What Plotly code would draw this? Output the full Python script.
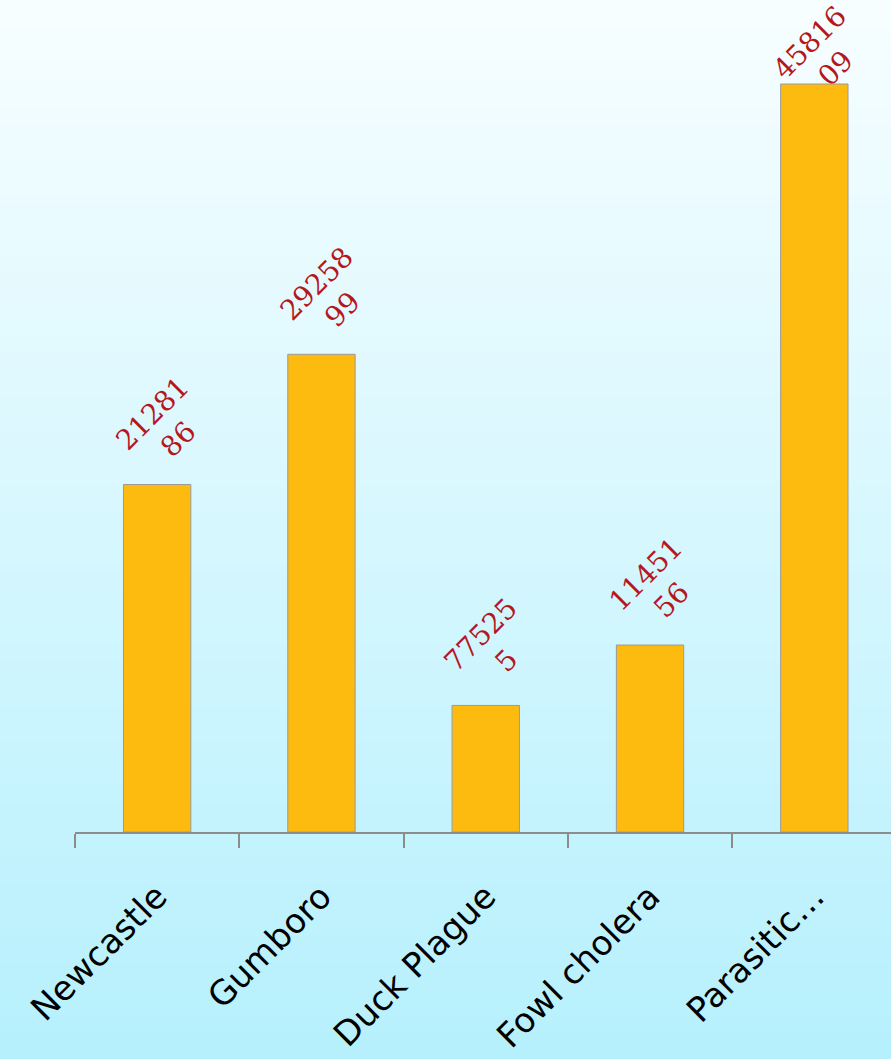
import plotly.graph_objects as go

categories = ["Newcastle", "Gumboro", "Duck Plague", "Fowl cholera", "Parasitic\u2026"]
values = [2128186, 2925899, 775255, 1145156, 4581609]

labels = [str(v)[:5] + "<br>" + str(v)[5:] for v in values]

W, H = 891, 1059
plot_h = 832
bm = H - plot_h
ymax = max(values) * 832 / 748

fig = go.Figure()
fig.add_trace(go.Bar(
    x=categories, y=values, width=0.41,
    marker=dict(color="#FDBB10", line=dict(color="#9A9A9A", width=1)),
    cliponaxis=False, hoverinfo="x+y",
))

# value labels, kept inside the figure like the original (pushed down if no room)
ink_h = 82      # visible height of a rotated two-line label
box_pad = 29    # rotated box is larger than its ink
base_shift = -1
for cat, v, lab in zip(categories, values, labels):
    top_px = plot_h * (1 - v / ymax)
    shift = min(base_shift, top_px - 3 - ink_h - box_pad)
    fig.add_annotation(
        x=cat, y=v, xref="x", yref="y", text=lab, showarrow=False,
        textangle=-45, xanchor="center", yanchor="bottom", yshift=shift, xshift=8,
        font=dict(family="DejaVu Serif", size=28, color="#B5171C"),
        align="center",
    )

# gradient background strips (pure styling)
top = (247, 254, 255)
bot = (182, 240, 253)
n = 120
shapes = []
for i in range(n):
    t = i / (n - 1)
    c = tuple(round(top[k] + (bot[k] - top[k]) * t) for k in range(3))
    ytop_px = H * i / n
    ybot_px = H * (i + 1) / n + 1
    y1 = (H - ytop_px - bm) / plot_h
    y0 = (H - ybot_px - bm) / plot_h
    shapes.append(dict(type="rect", xref="paper", yref="paper",
                       x0=-0.2, x1=1.2, y0=y0, y1=y1,
                       line=dict(width=0), fillcolor="rgb(%d,%d,%d)" % c, layer="below"))

fig.update_layout(
    width=W, height=H,
    margin=dict(l=75, r=0, t=0, b=bm, pad=0, autoexpand=False),
    paper_bgcolor="rgb(182,240,253)",
    plot_bgcolor="rgba(0,0,0,0)",
    shapes=shapes,
    showlegend=False,
    xaxis=dict(
        range=[-0.5, -0.5 + (W - 75) / 164.3],
        automargin=False,
        showline=True, linecolor="#8C8C8C", linewidth=2,
        ticks="outside", tickson="boundaries", ticklen=14, tickwidth=2, tickcolor="#8C8C8C",
        tickangle=-45, tickfont=dict(family="DejaVu Sans", size=34, color="#000000"),
        ticklabelstandoff=29,
        showgrid=False, zeroline=False,
    ),
    yaxis=dict(range=[0, ymax], visible=False, automargin=False,
               showgrid=False, zeroline=False),
)

fig.write_html("out.html", config={"displayModeBar": False},
               post_script="document.body.style.margin='0';document.body.style.overflow='hidden';")
